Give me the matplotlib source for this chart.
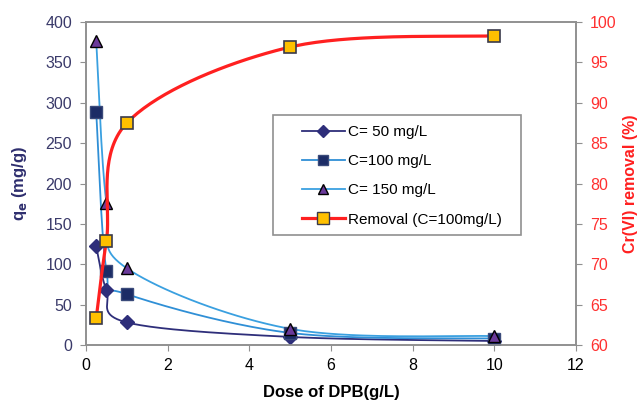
import numpy as np
import matplotlib
matplotlib.use("Agg")
import matplotlib.pyplot as plt
from matplotlib.lines import Line2D
from matplotlib.patches import Rectangle

plt.rcParams['font.family'] = ['Liberation Sans', 'DejaVu Sans']

dose = [0.25, 0.5, 1, 5, 10]
qe_50 = [122, 68, 28, 10, 5]
qe_100 = [288, 92, 63, 15, 8]
qe_150 = [376, 176, 95, 20, 11]
removal = [63.3, 72.9, 87.5, 96.9, 98.3]


def smooth(x, y, n=40):
    # Excel-like smoothed line (Catmull-Rom bezier)
    x = np.asarray(x, float)
    y = np.asarray(y, float)
    p = np.column_stack([x, y])
    out = []
    for i in range(len(p) - 1):
        p0 = p[i - 1] if i > 0 else p[i]
        p1, p2 = p[i], p[i + 1]
        p3 = p[i + 2] if i + 2 < len(p) else p[i + 1]
        c1 = p1 + (p2 - p0) / 6
        c2 = p2 - (p3 - p1) / 6
        t = np.linspace(0, 1, n)[:, None]
        seg = (1 - t) ** 3 * p1 + 3 * (1 - t) ** 2 * t * c1 + 3 * (1 - t) * t ** 2 * c2 + t ** 3 * p2
        out.append(seg)
    s = np.vstack(out)
    return s[:, 0], s[:, 1]


fig = plt.figure(figsize=(6.39, 4.03), dpi=100)
ax = fig.add_axes([0.1346, 0.1439, 0.7668, 0.8015])
ax2 = ax.twinx()

navy = '#2e2e7a'
blue = '#2f8fd6'
blue2 = '#3aa0e0'
red = '#ff2020'

xs, ys = smooth(dose, qe_50)
ax.plot(xs, ys, color=navy, lw=1.3, zorder=3)
ax.plot(dose, qe_50, ls='none', marker='D', ms=7, color=navy, mec=navy, zorder=4)

xs, ys = smooth(dose, qe_100)
ax.plot(xs, ys, color=blue, lw=1.3, zorder=3)
ax.plot(dose, qe_100, ls='none', marker='s', ms=8, color='#1c2c66', mec='#3a4a7a', zorder=4)

xs, ys = smooth(dose, qe_150)
ax.plot(xs, ys, color=blue2, lw=1.3, zorder=3)
ax.plot(dose, qe_150, ls='none', marker='^', ms=9, color='#6a3a9a', mec='black', mew=1, zorder=4)

xs, ys = smooth(dose, removal)
ax2.plot(xs, ys, color=red, lw=2.3, zorder=3)
ax2.plot(dose, removal, ls='none', marker='s', ms=9, color='#ffc000', mec='#3a3a4a', mew=1.2, zorder=4)

ax.set_xlim(0, 12)
ax.set_ylim(0, 400)
ax2.set_ylim(60, 100)
ax.set_xticks(range(0, 13, 2))
ax.set_yticks(range(0, 401, 50))
ax2.set_yticks(range(60, 101, 5))

for a in (ax, ax2):
    for s in a.spines.values():
        s.set_color('#909090')
        s.set_linewidth(1.2)

ax.tick_params(axis='x', colors='#909090', labelcolor='black', labelsize=11.5, length=4, pad=5)
ax.tick_params(axis='y', colors='#909090', labelcolor='#3a3a6a', labelsize=11.5, length=4, pad=6)
ax2.tick_params(axis='y', colors='#909090', labelcolor='#ff3030', labelsize=11.5, length=4, pad=6)

ax.set_xlabel('Dose of DPB(g/L)', fontsize=12, fontweight='bold', labelpad=9)
ax.set_ylabel(r'q$_\mathbf{e}$ (mg/g)', fontsize=12, fontweight='bold', color='#2e2e6e', labelpad=12)
ax2.set_ylabel('Cr(VI) removal (%)', fontsize=11.5, fontweight='bold', color='#ff2020', labelpad=5)

# legend box like the Excel chart
ax2.add_patch(Rectangle((0.382, 0.341), 0.506, 0.371, transform=ax2.transAxes,
                        fill=True, facecolor='white', edgecolor='#909090', lw=1.2, zorder=5))

handles = [
    Line2D([], [], color=navy, lw=1.3, marker='D', ms=6, mfc=navy, mec=navy),
    Line2D([], [], color=blue, lw=1.3, marker='s', ms=7, mfc='#1c2c66', mec='#3a4a7a'),
    Line2D([], [], color=blue2, lw=1.3, marker='^', ms=7, mfc='#6a3a9a', mec='black'),
    Line2D([], [], color=red, lw=2.3, marker='s', ms=8, mfc='#ffc000', mec='#3a3a4a'),
]
labels = ['C= 50 mg/L', 'C=100 mg/L', 'C= 150 mg/L', 'Removal (C=100mg/L)']
leg = ax2.legend(handles, labels, loc='upper left', bbox_to_anchor=(0.425, 0.705),
                 fontsize=11, frameon=False, handlelength=2.8,
                 handletextpad=0.2, labelspacing=1.0, borderpad=0)
leg.set_zorder(6)

fig.savefig('out.png', dpi=100)
